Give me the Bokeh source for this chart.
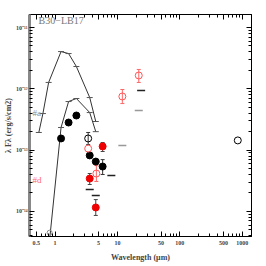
from bokeh.plotting import figure
from bokeh.models import LogAxis, FixedTicker, CustomJSTickFormatter, Label
from bokeh.embed import file_html
from bokeh.resources import INLINE

# ---------------- data ----------------
# model photosphere #a (upper curve)
model_a_wl = [0.55, 0.64, 0.79, 1.25, 1.65, 2.2, 3.6, 4.5]
model_a_f = [1.94e-13, 3.95e-13, 1.27e-12, 4.05e-12, 3.76e-12, 2.31e-12, 7.2e-13, 2.93e-13]
# model photosphere #d (lower curve)
model_d_wl = [0.79, 1.25, 1.65, 2.2, 3.6, 4.5]
model_d_f = [2.4e-15, 2.34e-13, 6.2e-13, 6.95e-13, 4.1e-13, 2.0e-13]

# black filled (source a)
blk_wl = [1.25, 1.65, 2.2, 3.6, 4.5, 5.8]
blk_f = [1.55e-13, 2.82e-13, 3.67e-13, 8.2e-14, 6.5e-14, 5.4e-14]
blk_lo = [None, None, None, None, None, 4.0e-14]
blk_hi = [None, None, None, None, None, 7.0e-14]

# black open
bopen_wl = [3.4, 850.0]
bopen_f = [1.55e-13, 1.44e-13]
bopen_lo = [1.23e-13, None]
bopen_hi = [1.94e-13, None]

# gray open (near lower edge)
gopen_wl = [0.82]
gopen_f = [4.5e-15]

# red filled (source d)
red_wl = [3.6, 4.5, 5.8]
red_f = [3.44e-14, 1.16e-14, 1.15e-13]
red_lo = [2.75e-14, 8.6e-15, 9.5e-14]
red_hi = [4.15e-14, 1.56e-14, 1.33e-13]

# red open
ropen_wl = [3.4, 4.6, 12.0, 22.0]
ropen_f = [1.06e-13, 4.15e-14, 7.5e-13, 1.65e-12]
ropen_lo = [None, 3.08e-14, 5.75e-13, 1.27e-12]
ropen_hi = [None, 5.6e-14, 9.75e-13, 2.07e-12]

# limits (dark)
lim_wl = [3.6, 4.5, 8.0, 24.0]
lim_f = [2.28e-14, 1.82e-14, 3.85e-14, 9.4e-13]
# limits (gray)
glim_wl = [12.0, 22.0]
glim_f = [1.19e-13, 4.43e-13]

x_major = [0.5, 1, 5, 10, 50, 100, 500, 1000]
x_minor = [0.4, 0.6, 0.7, 0.8, 0.9, 2, 3, 4, 6, 7, 8, 9, 20, 30, 40, 60, 70, 80, 90,
           200, 300, 400, 600, 700, 800, 900]
y_major = [1e-14, 1e-13, 1e-12, 1e-11]
y_minor = [m * d for d in [1e-15, 1e-14, 1e-13, 1e-12, 1e-11] for m in range(2, 10)]

FONT = "Liberation Serif"

p = figure(frame_width=222, frame_height=222, x_axis_type="log", y_axis_type="log",
           x_range=(0.39, 1410), y_range=(3.9e-15, 1.63e-11),
           output_backend="svg", toolbar_location=None,
           min_border_left=22, min_border_right=4, min_border_top=14, min_border_bottom=22)
p.grid.visible = False
p.outline_line_color = "black"
p.outline_line_width = 1
p.background_fill_color = "white"
p.border_fill_color = "white"

xt = FixedTicker(ticks=x_major, minor_ticks=x_minor)
yt = FixedTicker(ticks=y_major, minor_ticks=y_minor)

xfmt = CustomJSTickFormatter(code="return String(tick);")
yfmt = CustomJSTickFormatter(code="""
const sup = {'-':'\u207b','0':'\u2070','1':'\u00b9','2':'\u00b2','3':'\u00b3','4':'\u2074','5':'\u2075','6':'\u2076','7':'\u2077','8':'\u2078','9':'\u2079'};
const e = Math.round(Math.log10(tick));
return '10' + String(e).split('').map(c => sup[c]).join('');
""")
blank = CustomJSTickFormatter(code="return '';")

for ax in p.xaxis:
    ax.ticker = xt
    ax.formatter = xfmt
    ax.axis_label = "Wavelength (\u03bcm)"
    ax.major_label_standoff = 4
    ax.axis_label_standoff = 5
for ax in p.yaxis:
    ax.ticker = yt
    ax.formatter = yfmt
    ax.axis_label = "\u03bb F\u03bb (erg/s/cm2)"
    ax.axis_line_color = "#888888"
    ax.axis_line_width = 3
    ax.major_label_standoff = 2
    ax.axis_label_standoff = 0

for ax in list(p.xaxis) + list(p.yaxis):
    ax.major_tick_in = 5
    ax.major_tick_out = 0
    ax.minor_tick_in = 3
    ax.minor_tick_out = 0
    ax.major_label_text_font = FONT
    ax.major_label_text_font_style = "bold"
    ax.major_label_text_font_size = "6px"
    ax.axis_label_text_font = FONT
    ax.axis_label_text_font_style = "bold"
    ax.axis_label_text_font_size = "8px"

top = LogAxis(ticker=xt, formatter=blank, major_label_text_font_size="1px", major_label_standoff=0,
              major_tick_in=5, major_tick_out=0, minor_tick_in=3, minor_tick_out=0)
right = LogAxis(ticker=yt, formatter=blank, major_label_text_font_size="1px", major_label_standoff=0,
                major_tick_in=5, major_tick_out=0, minor_tick_in=3, minor_tick_out=0)
p.add_layout(top, "above")
p.add_layout(right, "right")

# model curves
p.line(model_a_wl, model_a_f, line_color="#333333", line_width=1)
p.scatter(model_a_wl, model_a_f, marker="dash", size=6, line_color="#555555")
p.line(model_d_wl, model_d_f, line_color="#333333", line_width=1)
p.scatter(model_d_wl, model_d_f, marker="dash", size=6, line_color="#555555")


def errbars(wl, lo, hi, color):
    xs, ls, hs = [], [], []
    for w, l, h in zip(wl, lo, hi):
        if l is not None:
            xs.append(w); ls.append(l); hs.append(h)
    p.segment(xs, ls, xs, hs, line_color=color, line_width=1)
    p.scatter(xs + xs, ls + hs, marker="dash", size=4, line_color=color)


errbars(blk_wl, blk_lo, blk_hi, "#333333")
errbars(bopen_wl, bopen_lo, bopen_hi, "#333333")
errbars(red_wl, red_lo, red_hi, "#444444")
errbars(ropen_wl, ropen_lo, ropen_hi, "#ff6666")

p.scatter(blk_wl, blk_f, marker="circle", size=7, fill_color="black", line_color="black")
p.scatter(bopen_wl, bopen_f, marker="circle", size=7, fill_color=None, line_color="black", line_width=1)
p.scatter(gopen_wl, gopen_f, marker="circle", size=5, fill_color=None, line_color="#888888", line_width=1)
p.scatter(red_wl, red_f, marker="circle", size=7, fill_color="#ee0000", line_color="#ee0000")
p.scatter(ropen_wl, ropen_f, marker="circle", size=7, fill_color=None, line_color="#ff5555", line_width=1)

p.scatter(lim_wl, lim_f, marker="dash", size=8, line_color="#222222", line_width=1.5)
p.scatter(glim_wl, glim_f, marker="dash", size=8, line_color="#999999", line_width=1.5)

p.add_layout(Label(x=0.545, y=1.3e-11, text="B30\u2212LB17", text_font=FONT,
                   text_font_size="10px", text_color="#777777", text_baseline="middle"))
p.add_layout(Label(x=0.435, y=4.1e-13, text="#a", text_font=FONT,
                   text_font_size="9px", text_color="#888888", text_baseline="middle"))
p.add_layout(Label(x=0.435, y=3.3e-14, text="#d", text_font=FONT,
                   text_font_size="9px", text_color="#ff6666", text_baseline="middle"))

open("out.html", "w").write(file_html(p, INLINE))
